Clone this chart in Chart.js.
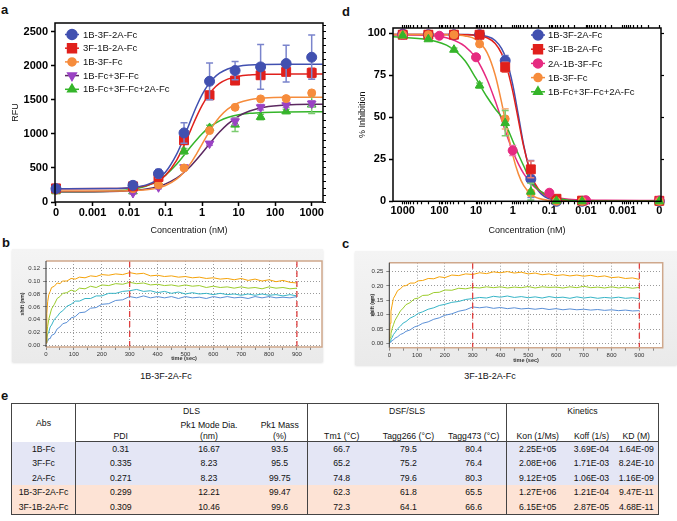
<!DOCTYPE html>
<html>
<head>
<meta charset="utf-8">
<script src="https://cdn.jsdelivr.net/npm/chart.js@4.4.0/dist/chart.umd.min.js"></script>
<style>
  body { margin: 0; width: 677px; height: 521px; position: relative; overflow: hidden; background: #fff;
         font-family: "Liberation Sans", Arial, Helvetica, sans-serif; color: #111; }
  .box { position: absolute; }
  .tag { position: absolute; font-weight: bold; font-size: 13px; line-height: 13px; }
  .panel { position: absolute; background: linear-gradient(to bottom, #f4f4f4, #eaeaea); box-shadow: 0 1px 2px rgba(0,0,0,0.12); }
  .cap { position: absolute; font-size: 9px; width: 120px; text-align: center; }
  #tbl { position: absolute; left: 11px; top: 403px; width: 647px; border-collapse: collapse; table-layout: fixed;
         font-size: 8.7px; border: 1px solid #444; }
  #tbl th, #tbl td { padding: 0; text-align: center; font-weight: normal; white-space: nowrap; line-height: 10px; }
  #tbl .g { border-left: 1px solid #444; }
  #tbl thead tr.last th { border-bottom: 1px solid #444; }
</style>
</head>
<body>
<div class="tag" style="left:1px;top:3px">a</div>
<div class="tag" style="left:342px;top:5px">d</div>
<div class="tag" style="left:2px;top:236px">b</div>
<div class="tag" style="left:342px;top:237px">c</div>
<div class="tag" style="left:1px;top:389px">e</div>

<div class="box" style="left:0;top:0"><canvas id="chartA" width="335" height="240"></canvas></div>
<div class="box" style="left:340px;top:0"><canvas id="chartD" width="337" height="240"></canvas></div>

<div class="panel" style="left:12px;top:249px;width:311px;height:113px"></div>
<div class="box" style="left:12px;top:249px"><canvas id="chartB" width="311" height="113"></canvas></div>
<div class="panel" style="left:355px;top:251px;width:322px;height:114px"></div>
<div class="box" style="left:355px;top:251px"><canvas id="chartC" width="322" height="114"></canvas></div>
<div class="cap" style="left:106px;top:371px">1B-3F-2A-Fc</div>
<div class="cap" style="left:430px;top:371px">3F-1B-2A-Fc</div>

<table id="tbl">
  <colgroup>
    <col style="width:64px"><col style="width:90px"><col style="width:87px"><col style="width:55px">
    <col style="width:68px"><col style="width:66px"><col style="width:65px">
    <col style="width:62px"><col style="width:46px"><col style="width:44px">
  </colgroup>
  <thead id="thead"></thead>
  <tbody id="tbody"></tbody>
</table>

<script>
// ---------- panel a : binding (RFU) ----------
const concA = [0, 0.0128, 0.064, 0.32, 1.6, 8, 40, 200, 1000];
const seriesA = ['1B-3F-2A-Fc', '3F-1B-2A-Fc', '1B-3F-Fc', '1B-Fc+3F-Fc', '1B-Fc+3F-Fc+2A-Fc'];
const rfu1B3F2A = [196, 245, 417, 1015, 1774, 1931, 1985, 2034, 2127];
const rfu3F1B2A = [200, 230, 368, 907, 1568, 1784, 1862, 1912, 1897];
const rfu1B3F   = [172, 195, 250, 500, 1049, 1391, 1515, 1519, 1603];
const rfuMix2   = [181, 132, 216, 510, 858, 1185, 1391, 1421, 1446];
const rfuMix3   = [157, 157, 289, 745, 1088, 1137, 1250, 1332, 1431];
const sd1B3F2A = [20, 30, 60, 150, 270, 135, 330, 270, 325];
const sd3F1B2A = [15, 20, 30, 60, 60, 40, 50, 40, 70];
const sd1B3F   = [10, 10, 15, 20, 20, 20, 20, 20, 25];
const sdMix2   = [15, 15, 20, 25, 25, 50, 40, 30, 40];
const sdMix3   = [15, 15, 25, 40, 40, 100, 40, 30, 130];

// fitted curves
const fitConc = [1e-4, 0.003, 0.01, 0.03, 0.06, 0.1, 0.2, 0.3, 0.5, 0.7, 1, 1.5, 2, 3, 5, 10, 20, 50, 200, 2000];
const fitA1B3F2A = [195, 198, 209, 252, 330, 440, 700, 913, 1214, 1403, 1577, 1732, 1812, 1893, 1955, 1996, 2013, 2021, 2025, 2025];
const fitA3F1B2A = [195, 197, 206, 241, 304, 394, 613, 799, 1071, 1251, 1420, 1575, 1658, 1742, 1805, 1849, 1867, 1876, 1879, 1880];
const fitA1B3F   = [160, 161, 165, 180, 206, 242, 335, 424, 578, 705, 850, 1014, 1122, 1249, 1365, 1458, 1503, 1527, 1538, 1540];
const fitAMix2   = [150, 155, 166, 192, 226, 267, 352, 422, 533, 620, 719, 836, 919, 1027, 1144, 1263, 1338, 1393, 1426, 1438];
const fitAMix3   = [150, 159, 180, 236, 310, 395, 555, 668, 818, 911, 1002, 1088, 1137, 1193, 1242, 1282, 1303, 1316, 1323, 1325];
const rfuTicks = [0, 500, 1000, 1500, 2000, 2500];

// ---------- panel d : inhibition ----------
const concD = [1000, 200, 40, 8, 1.6, 0.32, 0.064, 0.0128, 0];
const concDPink = [1000, 100, 10, 1, 0.1, 0.01, 0];
const seriesD = ['1B-3F-2A-Fc', '3F-1B-2A-Fc', '2A-1B-3F-Fc', '1B-3F-Fc', '1B-Fc+3F-Fc+2A-Fc'];
const inh1B3F2A = [99.4, 99, 99, 99, 83.6, 13.2, 0, 0, 0];
const inh3F1B2A = [99, 99, 99, 99, 79.7, 19, 1.5, 0.4, 0.3];
const inh2A1B3F = [99, 98.4, 85.6, 30.2, 5.1, 0.6, 0.5];
const inh1B3F   = [99, 99, 99, 93.5, 49, 5, 0, 0, 0];
const inhMix3   = [98.5, 96.3, 90.1, 68.8, 46.5, 5.7, 0.3, 0, 0];
const sdD1B3F2A = [0.5, 0.5, 0.5, 0.5, 3, 11, 0.5, 0.3, 0.3];
const sdD3F1B2A = [0.5, 0.5, 0.5, 0.5, 3, 5, 0.5, 0.3, 0.3];
const sdD2A1B3F = [0.5, 0.5, 1, 3, 1, 0.3, 0.3];
const sdD1B3F   = [0.5, 0.5, 0.5, 1, 6, 1.5, 0.3, 0.3, 0.3];
const sdDMix3   = [0.5, 0.5, 1, 1.5, 7.5, 5, 0.5, 0.3, 0.3];
const fitD1B3F2A = [0, 0, 0, 0.1, 0.5, 1.4, 6.3, 14.1, 33.4, 51.2, 69.5, 84.4, 90.7, 95.6, 98.0, 98.9, 99.1, 99.2, 99.2, 99.2];
const fitD3F1B2A = [0.3, 0.3, 0.3, 0.5, 1.0, 2.2, 7.4, 14.9, 32.5, 48.4, 65.5, 80.7, 87.8, 93.8, 97.2, 98.6, 99.0, 99.1, 99.2, 99.2];
const fitD2A1B3F = [0.5, 0.6, 0.7, 1.2, 2.1, 3.4, 6.7, 10.0, 16.4, 22.2, 29.9, 40.3, 48.4, 59.7, 72.4, 85.0, 92.1, 96.5, 98.5, 99.0];
const fitD1B3F   = [0, 0, 0, 0.05, 0.2, 0.5, 1.8, 3.7, 9.3, 16.3, 27.6, 45.1, 58.6, 75.1, 88.4, 96.1, 98.3, 99.0, 99.2, 99.2];
const fitDMix3   = [0, 0.05, 0.2, 0.7, 1.6, 3, 7, 11, 21, 28, 36, 45, 50, 55, 62, 73, 83.5, 91.5, 96, 97.8];
const inhTicks = [0, 25, 50, 75, 100];

const decadeTicks = [1e-4, 1e-3, 1e-2, 0.1, 1, 10, 100, 1000];
const decadeLabels = ['0', '0.001', '0.01', '0.1', '1', '10', '100', '1000'];

// ---------- panels b, c : BLI sensorgrams ----------
const bliTime = [0, 3, 6, 10, 15, 20, 30, 40, 50, 60, 75, 90, 105, 120, 140, 160, 180, 200, 225, 250, 275, 300,
  325, 350, 375, 400, 425, 450, 475, 500, 525, 550, 575, 600, 625, 650, 675, 700, 725, 750, 775, 800, 825, 850, 875, 900];
const bOrange = [0.004,0.050,0.068,0.079,0.084,0.090,0.092,0.097,0.096,0.100,0.100,0.104,0.103,0.106,0.105,0.108,0.107,0.110,0.109,0.111,0.110,0.113,0.111,0.112,0.108,0.109,0.107,0.108,0.106,0.107,0.105,0.106,0.104,0.105,0.103,0.104,0.102,0.104,0.101,0.103,0.100,0.102,0.099,0.101,0.098,0.097];
const bGreen  = [0.008,0.021,0.030,0.041,0.049,0.057,0.064,0.073,0.076,0.081,0.082,0.086,0.084,0.089,0.088,0.092,0.090,0.094,0.093,0.096,0.095,0.098,0.096,0.097,0.094,0.095,0.093,0.094,0.092,0.094,0.092,0.093,0.090,0.092,0.090,0.091,0.089,0.091,0.089,0.090,0.088,0.091,0.089,0.090,0.088,0.089];
const bTeal   = [0.006,0.012,0.018,0.021,0.029,0.032,0.041,0.045,0.051,0.054,0.061,0.064,0.069,0.069,0.073,0.073,0.077,0.077,0.081,0.081,0.084,0.085,0.087,0.084,0.085,0.082,0.084,0.081,0.083,0.080,0.082,0.080,0.081,0.079,0.081,0.079,0.080,0.078,0.080,0.078,0.080,0.078,0.079,0.077,0.079,0.077];
const bBlue   = [0.004,0.007,0.007,0.011,0.011,0.016,0.018,0.026,0.029,0.034,0.036,0.043,0.045,0.051,0.052,0.058,0.059,0.064,0.065,0.070,0.071,0.076,0.074,0.077,0.074,0.076,0.074,0.076,0.073,0.076,0.074,0.075,0.073,0.076,0.074,0.076,0.074,0.075,0.073,0.076,0.074,0.076,0.074,0.075,0.074,0.076];
const cOrange = [0.005,0.070,0.112,0.133,0.157,0.165,0.184,0.190,0.200,0.201,0.210,0.210,0.218,0.219,0.226,0.225,0.232,0.229,0.238,0.236,0.242,0.240,0.246,0.243,0.249,0.246,0.250,0.245,0.248,0.242,0.245,0.239,0.242,0.236,0.239,0.235,0.238,0.234,0.237,0.232,0.235,0.229,0.231,0.226,0.228,0.223];
const cGreen  = [0.004,0.021,0.034,0.051,0.065,0.079,0.096,0.113,0.123,0.135,0.142,0.155,0.158,0.167,0.168,0.177,0.178,0.186,0.185,0.192,0.190,0.195,0.193,0.197,0.194,0.197,0.193,0.196,0.194,0.198,0.193,0.197,0.195,0.196,0.193,0.197,0.194,0.199,0.194,0.196,0.193,0.197,0.193,0.196,0.192,0.195];
const cTeal   = [0.002,0.008,0.015,0.020,0.031,0.037,0.051,0.060,0.071,0.076,0.088,0.095,0.105,0.110,0.119,0.124,0.132,0.136,0.143,0.146,0.153,0.156,0.160,0.158,0.164,0.161,0.165,0.160,0.163,0.159,0.162,0.158,0.163,0.159,0.161,0.157,0.162,0.158,0.161,0.157,0.160,0.158,0.161,0.157,0.159,0.156];
const cBlue   = [0.001,0.004,0.005,0.010,0.012,0.018,0.023,0.031,0.035,0.042,0.047,0.057,0.062,0.070,0.075,0.084,0.089,0.098,0.103,0.112,0.117,0.127,0.124,0.127,0.122,0.125,0.121,0.124,0.120,0.122,0.119,0.122,0.118,0.121,0.117,0.120,0.117,0.119,0.116,0.118,0.115,0.117,0.114,0.116,0.113,0.114];
const bliMarkers = [300, 900];
const bTicks = [0, 0.02, 0.04, 0.06, 0.08, 0.10, 0.12];
const cTicks = [0, 0.05, 0.10, 0.15, 0.20, 0.25];

// ---------- table e ----------
const headGroups = ['DLS', 'DSF/SLS', 'Kinetics'];
const headSub = ['', 'Pk1 Mode Dia.', 'Pk1 Mass', '', '', '', '', '', ''];
const headUnits = ['PDI', '(nm)', '(%)', 'Tm1 (°C)', 'Tagg266 (°C)', 'Tagg473 (°C)', 'Kon (1/Ms)', 'Koff (1/s)', 'KD (M)'];
const absNames = ['1B-Fc', '3F-Fc', '2A-Fc', '1B-3F-2A-Fc', '3F-1B-2A-Fc'];
const pdi      = ['0.31', '0.335', '0.271', '0.299', '0.309'];
const modeDia  = ['16.67', '8.23', '8.23', '12.21', '10.46'];
const pk1Mass  = ['93.5', '95.5', '99.75', '99.47', '99.6'];
const tm1      = ['66.7', '65.2', '74.8', '62.3', '72.3'];
const tagg266  = ['79.5', '75.2', '79.6', '61.8', '64.1'];
const tagg473  = ['80.4', '76.4', '80.3', '65.5', '66.6'];
const kon      = ['2.25E+05', '2.08E+06', '9.12E+05', '1.27E+06', '6.15E+05'];
const koff     = ['3.69E-04', '1.71E-03', '1.06E-03', '1.21E-04', '2.87E-05'];
const kd       = ['1.64E-09', '8.24E-10', '1.16E-09', '9.47E-11', '4.68E-11'];
const rowTint  = ['#e4e6f5', '#e4e6f5', '#e4e6f5', '#fde3d5', '#fde3d5'];

// =====================================================================
Chart.defaults.font.family = '"Liberation Sans", Arial, Helvetica, sans-serif';
Chart.defaults.color = '#000';

const zeroPos = 1e-4;
const pts = (xs, ys) => xs.map((x, i) => ({ x: x === 0 ? zeroPos : x, y: ys[i] }));
const isDecade = v => decadeTicks.findIndex(d => Math.abs(Math.log10(d) - Math.log10(v)) < 1e-6);

const minorTicks = [];
for (let e = -4; e <= 3; e++) {
  for (let m = 1; m <= 9; m++) {
    const v = m * Math.pow(10, e);
    if (v <= 1800) minorTicks.push(v);
  }
}

// error bars drawn under each point dataset
const errorBars = {
  id: 'errorBars',
  beforeDatasetDraw(chart, args) {
    const ds = chart.data.datasets[args.index];
    if (!ds.errors) return;
    const ys = chart.scales.y, ctx = chart.ctx;
    ctx.save();
    ctx.strokeStyle = ds.errorColor;
    ctx.lineWidth = 1.5;
    args.meta.data.forEach((p, i) => {
      const e = ds.errors[i];
      if (!e) return;
      const v = ds.data[i].y;
      const top = ys.getPixelForValue(v + e);
      const bot = ys.getPixelForValue(Math.max(v - e, ys.min));
      ctx.beginPath();
      ctx.moveTo(p.x, top); ctx.lineTo(p.x, bot);
      ctx.moveTo(p.x - 3.5, top); ctx.lineTo(p.x + 3.5, top);
      ctx.moveTo(p.x - 3.5, bot); ctx.lineTo(p.x + 3.5, bot);
      ctx.stroke();
    });
    ctx.restore();
  }
};

function boxFrame(color, width) {
  return {
    id: 'boxFrame',
    afterDraw(chart) {
      const { ctx, chartArea: a } = chart;
      ctx.save();
      ctx.strokeStyle = color; ctx.lineWidth = width;
      ctx.strokeRect(a.left, a.top, a.right - a.left, a.bottom - a.top);
      ctx.restore();
    }
  };
}

function sideLegend(cfg) {
  return {
    id: 'sideLegend',
    afterDraw(chart) {
      const ctx = chart.ctx;
      cfg.items.forEach((it, i) => {
        const y = cfg.y + i * cfg.dy;
        ctx.save();
        ctx.strokeStyle = it.line; ctx.lineWidth = 1.5;
        ctx.beginPath(); ctx.moveTo(cfg.x - 7, y); ctx.lineTo(cfg.x + 7, y); ctx.stroke();
        ctx.fillStyle = it.color; ctx.strokeStyle = it.color;
        Chart.helpers.drawPoint(ctx, { pointStyle: it.style, radius: it.radius, rotation: it.rotation, borderWidth: 1 }, cfg.x, y);
        ctx.fillStyle = '#111';
        ctx.font = '9.5px "Liberation Sans", Arial, sans-serif';
        ctx.textBaseline = 'middle';
        ctx.fillText(it.label, cfg.textX, y + 0.5);
        ctx.restore();
      });
    }
  };
}

function fitSet(xs, ys, color) {
  return { data: pts(xs, ys), borderColor: color, borderWidth: 1.5, pointRadius: 0, fill: false,
           cubicInterpolationMode: 'monotone', order: 2 };
}
function pointSet(xs, ys, errs, m) {
  return { data: pts(xs, ys), showLine: false, pointStyle: m.style, pointRadius: m.radius, pointRotation: m.rotation,
           pointBackgroundColor: m.color, pointBorderColor: m.color, pointBorderWidth: 1, borderColor: m.color,
           errors: errs, errorColor: m.err, clip: false, order: 1 };
}

const axisTickFont = { size: 11, weight: 'bold' };
const blackTicks = { display: true, drawOnChartArea: false, drawTicks: true, tickLength: 4, tickWidth: 1.5, tickColor: '#000' };
const plainNum = v => String(v);

// ---------- chart a ----------
const marksA = [
  { label: seriesA[0], color: '#4150b0', line: '#4150b0', err: '#7a84cc', style: 'circle', radius: 5, rotation: 0 },
  { label: seriesA[1], color: '#e0201c', line: '#e0201c', err: '#ee7a70', style: 'rect', radius: 6.3, rotation: 0 },
  { label: seriesA[2], color: '#f68c3c', line: '#f68c3c', err: '#f8b080', style: 'circle', radius: 4, rotation: 0 },
  { label: seriesA[3], color: '#9a42c4', line: '#5b2860', err: '#b07ccc', style: 'triangle', radius: 5, rotation: 180 },
  { label: seriesA[4], color: '#35b52a', line: '#35b52a', err: '#7ccc70', style: 'triangle', radius: 5, rotation: 0 }
];
const valsA = [rfu1B3F2A, rfu3F1B2A, rfu1B3F, rfuMix2, rfuMix3];
const sdA = [sd1B3F2A, sd3F1B2A, sd1B3F, sdMix2, sdMix3];
const fitsA = [fitA1B3F2A, fitA3F1B2A, fitA1B3F, fitAMix2, fitAMix3];

new Chart(document.getElementById('chartA'), {
  type: 'line',
  data: {
    datasets: [
      ...fitsA.map((f, i) => fitSet(fitConc, f, marksA[i].line)),
      ...valsA.map((v, i) => pointSet(concA, v, sdA[i], marksA[i]))
    ]
  },
  options: {
    responsive: false, animation: false,
    layout: { padding: { top: 23, left: 0, right: 0, bottom: 0 } },
    plugins: { legend: { display: false }, tooltip: { enabled: false } },
    scales: {
      x: {
        type: 'logarithmic', min: 9.4e-5, max: 2040, position: 'bottom',
        afterBuildTicks: s => { s.ticks = decadeTicks.map(v => ({ value: v })); },
        afterFit: s => { s.height = 38; },
        ticks: { callback: (v, i) => decadeLabels[i], font: axisTickFont, color: '#000', padding: 0, maxRotation: 0, autoSkip: false },
        grid: blackTicks, border: { display: false },
        title: { display: true, text: 'Concentration (nM)', font: { size: 9 }, color: '#111', padding: { top: 0, bottom: 4 } }
      },
      y: {
        type: 'linear', min: 0, max: 2630, position: 'left',
        afterBuildTicks: s => { s.ticks = rfuTicks.map(v => ({ value: v })); },
        afterFit: s => { s.width = 55; },
        ticks: { callback: plainNum, font: axisTickFont, color: '#000', padding: 3 },
        grid: blackTicks, border: { display: false },
        title: { display: true, text: 'RFU', font: { size: 9 }, color: '#111', padding: { top: 10, bottom: 0 } }
      },
      y2: {
        type: 'linear', min: 0, max: 2630, position: 'right',
        afterBuildTicks: s => { const t = []; for (let v = 0; v <= 2600; v += 100) t.push({ value: v }); s.ticks = t; },
        afterFit: s => { s.width = 12; },
        ticks: { display: false },
        grid: { display: true, drawOnChartArea: false, drawTicks: true, tickLength: 3, tickWidth: 1, tickColor: '#000' },
        border: { display: false }
      }
    }
  },
  plugins: [errorBars, boxFrame('#000', 1.5),
    sideLegend({ x: 72, y: 34.5, dy: 13.7, textX: 83, items: marksA })]
});

// ---------- chart d ----------
const marksD = [
  { label: seriesD[0], color: '#4150b0', line: '#4150b0', err: '#7a84cc', style: 'circle', radius: 5, rotation: 0 },
  { label: seriesD[1], color: '#e0201c', line: '#e0201c', err: '#ee7a70', style: 'rect', radius: 6.3, rotation: 0 },
  { label: seriesD[2], color: '#e62a80', line: '#e62a80', err: '#f07aae', style: 'circle', radius: 4.5, rotation: 0 },
  { label: seriesD[3], color: '#f68c3c', line: '#f68c3c', err: '#f8b080', style: 'circle', radius: 4, rotation: 0 },
  { label: seriesD[4], color: '#35b52a', line: '#35b52a', err: '#7ccc70', style: 'triangle', radius: 5, rotation: 0 }
];
const valsD = [inh1B3F2A, inh3F1B2A, inh2A1B3F, inh1B3F, inhMix3];
const xsD = [concD, concD, concDPink, concD, concD];
const sdD = [sdD1B3F2A, sdD3F1B2A, sdD2A1B3F, sdD1B3F, sdDMix3];
const fitsD = [fitD1B3F2A, fitD3F1B2A, fitD2A1B3F, fitD1B3F, fitDMix3];
const drawOrderD = [4, 3, 2, 1, 0];

new Chart(document.getElementById('chartD'), {
  type: 'line',
  data: {
    datasets: [
      ...drawOrderD.map(i => fitSet(fitConc, fitsD[i], marksD[i].line)),
      ...drawOrderD.map(i => pointSet(xsD[i], valsD[i], sdD[i], marksD[i]))
    ]
  },
  options: {
    responsive: false, animation: false,
    layout: { padding: { top: 25, left: 0, right: 0, bottom: 0 } },
    plugins: { legend: { display: false }, tooltip: { enabled: false } },
    scales: {
      x: {
        type: 'logarithmic', min: 9e-5, max: 1840, reverse: true, position: 'bottom',
        afterBuildTicks: s => { s.ticks = minorTicks.map(v => ({ value: v })); },
        afterFit: s => { s.height = 38.7; },
        ticks: { callback: v => { const k = isDecade(v); return k >= 0 ? decadeLabels[k] : ''; },
                 font: axisTickFont, color: '#000', padding: 0, maxRotation: 0, autoSkip: false },
        grid: { display: true, drawOnChartArea: false, drawTicks: true, tickLength: 3, tickWidth: 1.2, tickColor: '#000' },
        border: { display: false },
        title: { display: true, text: 'Concentration (nM)', font: { size: 9 }, color: '#111', padding: { top: 0, bottom: 4 } }
      },
      x2: {
        type: 'logarithmic', min: 9e-5, max: 1840, reverse: true, position: 'top',
        afterBuildTicks: s => { s.ticks = minorTicks.map(v => ({ value: v })); },
        afterFit: s => { s.height = 3; },
        ticks: { display: false },
        grid: { display: true, drawOnChartArea: false, drawTicks: true, tickLength: 3, tickWidth: 1.2, tickColor: '#000' },
        border: { display: false }
      },
      y: {
        type: 'linear', min: 0, max: 103, position: 'left',
        afterBuildTicks: s => { s.ticks = inhTicks.map(v => ({ value: v })); },
        afterFit: s => { s.width = 53; },
        ticks: { callback: plainNum, font: axisTickFont, color: '#000', padding: 3 },
        grid: blackTicks, border: { display: false },
        title: { display: true, text: '% Inhibition', font: { size: 9 }, color: '#111', padding: { top: 17, bottom: 0 } }
      },
      y2: {
        type: 'linear', min: 0, max: 103, position: 'right',
        afterBuildTicks: s => { s.ticks = inhTicks.map(v => ({ value: v })); },
        afterFit: s => { s.width = 16; },
        ticks: { display: false },
        grid: { display: true, drawOnChartArea: false, drawTicks: true, tickLength: 3, tickWidth: 1.2, tickColor: '#000' },
        border: { display: false }
      }
    }
  },
  plugins: [errorBars, boxFrame('#000', 1.5),
    sideLegend({ x: 198, y: 35, dy: 14.2, textX: 208, items: marksD })]
});

// ---------- charts b, c ----------
const bliColors = ['#f5a30a', '#9ccc2c', '#36b4c6', '#5a8fd6'];
const bliXTicks = [];
for (let t = 0; t <= 950; t += 50) bliXTicks.push(t);

function bliChart(id, traces, o) {
  const frame = {
    id: 'bliFrame',
    beforeDraw(chart) {
      const { ctx, chartArea: a } = chart;
      ctx.save(); ctx.fillStyle = '#fff';
      ctx.fillRect(a.left, a.top, a.right - a.left, a.bottom - a.top);
      ctx.restore();
    },
    afterDatasetsDraw(chart) {
      const { ctx, chartArea: a, scales } = chart;
      ctx.save();
      ctx.strokeStyle = '#e04040'; ctx.lineWidth = 1.3; ctx.setLineDash([6, 4]);
      bliMarkers.forEach(t => {
        const x = scales.x.getPixelForValue(t);
        ctx.beginPath(); ctx.moveTo(x, a.top); ctx.lineTo(x, a.bottom); ctx.stroke();
      });
      ctx.setLineDash([]);
      ctx.strokeStyle = '#cfa88c'; ctx.lineWidth = 1.5;
      ctx.beginPath();
      ctx.moveTo(a.left, a.top); ctx.lineTo(a.right, a.top); ctx.lineTo(a.right, a.bottom); ctx.lineTo(a.left, a.bottom);
      ctx.stroke();
      ctx.strokeStyle = '#333'; ctx.lineWidth = 1;
      ctx.beginPath(); ctx.moveTo(a.left, a.top); ctx.lineTo(a.left, a.bottom); ctx.stroke();
      ctx.restore();
    }
  };
  new Chart(document.getElementById(id), {
    type: 'line',
    data: {
      datasets: traces.map((tr, i) => ({
        data: bliTime.map((t, j) => ({ x: t, y: tr[j] })),
        borderColor: bliColors[i], borderWidth: 1, pointRadius: 0, tension: 0, order: i
      }))
    },
    options: {
      responsive: false, animation: false,
      layout: { padding: { top: o.top, right: o.right, left: 0, bottom: 0 } },
      plugins: { legend: { display: false }, tooltip: { enabled: false } },
      scales: {
        x: {
          type: 'linear', min: 0, max: o.xMax,
          afterBuildTicks: s => { s.ticks = bliXTicks.filter(v => v <= o.xMax).map(v => ({ value: v })); },
          afterFit: s => { s.height = o.xh; },
          ticks: { callback: v => (v % 100 === 0 && v <= 900) ? String(v) : '', font: { size: 6 }, color: '#333',
                   padding: 1, maxRotation: 0, autoSkip: false },
          grid: { color: c => (c.tick && c.tick.value % 100 === 0 && c.tick.value > 0 && c.tick.value <= 900) ? '#9a9a9a' : 'rgba(0,0,0,0)',
                  tickColor: '#888', tickLength: 3, lineWidth: 1, borderDash: [1, 2] },
          border: { display: false, dash: [1, 2] },
          title: { display: true, text: 'time (sec)', font: { size: 5.5, weight: 'bold' }, color: '#333', padding: { top: 0, bottom: o.tb } }
        },
        y: {
          type: 'linear', min: o.yMin, max: o.yMax,
          afterBuildTicks: s => { s.ticks = o.yTicks.map(v => ({ value: v })); },
          afterFit: s => { s.width = o.yw; },
          ticks: { callback: v => v.toFixed(2), font: { size: 6 }, color: '#333', padding: 3 },
          grid: { color: '#9a9a9a', tickColor: '#888', tickLength: 3, lineWidth: 1, borderDash: [1, 2] },
          border: { display: false, dash: [1, 2] },
          title: { display: true, text: 'shift (nm)', font: { size: 5, weight: 'bold' }, color: '#333', padding: { top: o.tp, bottom: 0 } }
        }
      }
    },
    plugins: [frame]
  });
}

bliChart('chartB', [bOrange, bGreen, bTeal, bBlue],
  { top: 12, right: 1, xh: 15, yw: 34, xMax: 990, yMin: -0.002, yMax: 0.131, yTicks: bTicks, tb: 0, tp: 8 });
bliChart('chartC', [cOrange, cGreen, cTeal, cBlue],
  { top: 11.7, right: 14.3, xh: 17.3, yw: 34.3, xMax: 984, yMin: -0.015, yMax: 0.281, yTicks: cTicks, tb: 1, tp: 15 });

// ---------- table e ----------
const thead = document.getElementById('thead');
const groupStart = [0, 3, 6];
let h = '<tr style="height:15px"><th rowspan="3" style="vertical-align:middle">Abs</th>';
headGroups.forEach(g => { h += '<th colspan="3" class="g">' + g + '</th>'; });
h += '</tr><tr style="height:12px">';
headSub.forEach((s, i) => { h += '<th' + (groupStart.includes(i) ? ' class="g"' : '') + '>' + s + '</th>'; });
h += '</tr><tr class="last" style="height:11px">';
headUnits.forEach((s, i) => { h += '<th' + (groupStart.includes(i) ? ' class="g"' : '') + '>' + s + '</th>'; });
h += '</tr>';
thead.innerHTML = h;

const cols = [pdi, modeDia, pk1Mass, tm1, tagg266, tagg473, kon, koff, kd];
let b = '';
absNames.forEach((name, r) => {
  b += '<tr style="height:14.5px;background:' + rowTint[r] + '"><td>' + name + '</td>';
  cols.forEach((c, i) => { b += '<td' + (groupStart.includes(i) ? ' class="g"' : '') + '>' + c[r] + '</td>'; });
  b += '</tr>';
});
document.getElementById('tbody').innerHTML = b;
</script>
</body>
</html>
